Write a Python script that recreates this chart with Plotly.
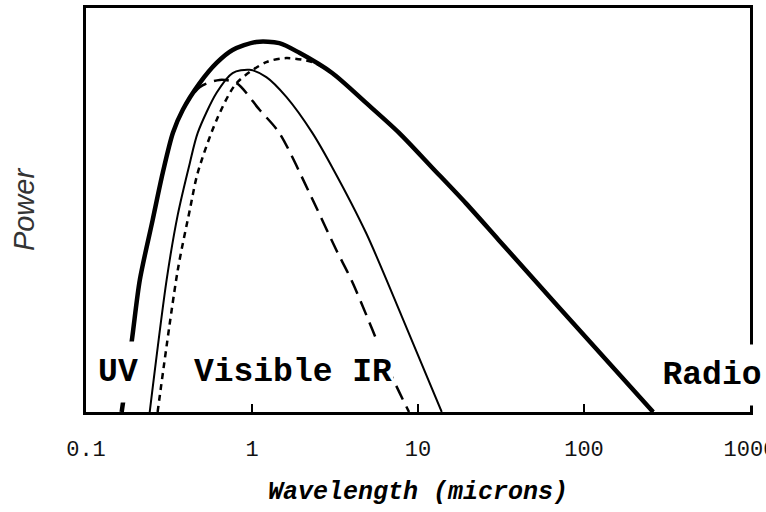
import plotly.graph_objects as go

# Wavelength (microns) and relative power
total_x = [0.164, 0.189, 0.211, 0.252, 0.290, 0.334, 0.383, 0.484, 0.612, 0.764, 1.06, 1.46, 1.93, 3.04, 4.87, 7.69, 12.1, 19.4, 30.6, 70.3, 261]
total_y = [0, 17.8, 32.7, 47.5, 59.2, 69.1, 74.8, 81.4, 86.4, 89.6, 91.6, 91.3, 88.9, 83.9, 76.5, 69.1, 60.6, 51.7, 42.6, 26.0, 0]

hot_x = [0.334, 0.383, 0.484, 0.638, 0.807, 1.11, 1.46, 2.22, 3.22, 4.02, 6.98, 8.83]
hot_y = [69.1, 74.8, 80.4, 82.2, 81.4, 74.8, 69.1, 54.2, 40.1, 32.2, 8.7, 0]

mid_x = [0.242, 0.306, 0.357, 0.422, 0.471, 0.612, 0.764, 0.966, 1.22, 1.61, 2.31, 3.04, 4.87, 8.02, 13.9]
mid_y = [0, 32.7, 48.8, 61.6, 69.1, 79.0, 83.9, 84.7, 82.9, 78.0, 69.1, 60.6, 44.3, 23.5, 0]

cool_x = [0.270, 0.357, 0.422, 0.471, 0.612, 0.807, 1.22, 1.61, 2.31, 3.04, 4.87, 7.69, 12.1, 19.4, 30.6, 70.3, 261]
cool_y = [0, 35.1, 50.0, 59.2, 72.3, 81.4, 86.6, 87.6, 86.6, 83.9, 76.5, 69.1, 60.6, 51.7, 42.6, 26.0, 0]

tick_vals = [0.1, 1, 10, 100, 1000]
tick_text = ["0.1", "1", "10", "100", "1000"]

fig = go.Figure()
fig.add_trace(go.Scatter(x=cool_x, y=cool_y, mode="lines",
                         line=dict(color="black", width=2.5, dash="6px,5px",
                                   shape="spline", smoothing=0.8)))
fig.add_trace(go.Scatter(x=hot_x, y=hot_y, mode="lines",
                         line=dict(color="black", width=2.5, dash="15px,8px",
                                   shape="spline", smoothing=0.8)))
fig.add_trace(go.Scatter(x=mid_x, y=mid_y, mode="lines",
                         line=dict(color="black", width=2, shape="spline", smoothing=0.8)))
fig.add_trace(go.Scatter(x=total_x, y=total_y, mode="lines",
                         line=dict(color="black", width=4.5, shape="spline", smoothing=0.8)))

label_font = dict(family="Liberation Mono", size=33, color="black", weight="bold")
anns = [
    dict(text="UV", x=-0.808, y=9.9, width=48, height=60),
    dict(text="Visible IR", x=0.245, y=9.9, width=200, height=60),
    dict(text="Radio", x=2.77, y=9.2, width=106, height=60),
]
for a in anns:
    fig.add_annotation(text=a["text"], x=a["x"], y=a["y"], xref="x", yref="y",
                       showarrow=False, font=label_font, bgcolor="white",
                       width=a["width"], height=a["height"], borderpad=0,
                       xanchor="center", yanchor="middle")

fig.update_layout(
    width=766, height=512,
    margin=dict(l=86, r=16, t=8, b=100),
    paper_bgcolor="white", plot_bgcolor="white",
    showlegend=False,
    xaxis=dict(type="log", range=[-1, 3], tickvals=tick_vals, ticktext=tick_text,
               ticks="inside", ticklen=8, tickwidth=2, tickcolor="black",
               showline=True, linecolor="black", linewidth=3, mirror=True,
               showgrid=False, zeroline=False, ticklabelstandoff=15,
               ticklabeloverflow="allow",
               tickfont=dict(family="Liberation Mono", size=22, color="#111"),
               automargin=False,
               title=dict(text="Wavelength (microns)", standoff=20,
                          font=dict(family="Liberation Mono", size=25, color="black",
                                    weight="bold", style="italic"))),
    yaxis=dict(range=[0, 100], showticklabels=False, ticks="", showgrid=False,
               zeroline=False, showline=True, linecolor="black", linewidth=3, mirror=True,
               automargin=False,
               title=dict(text="Power", standoff=40,
                          font=dict(family="Liberation Sans", size=29, color="#333",
                                    style="italic"))),
)

fig.write_html("out.html")
